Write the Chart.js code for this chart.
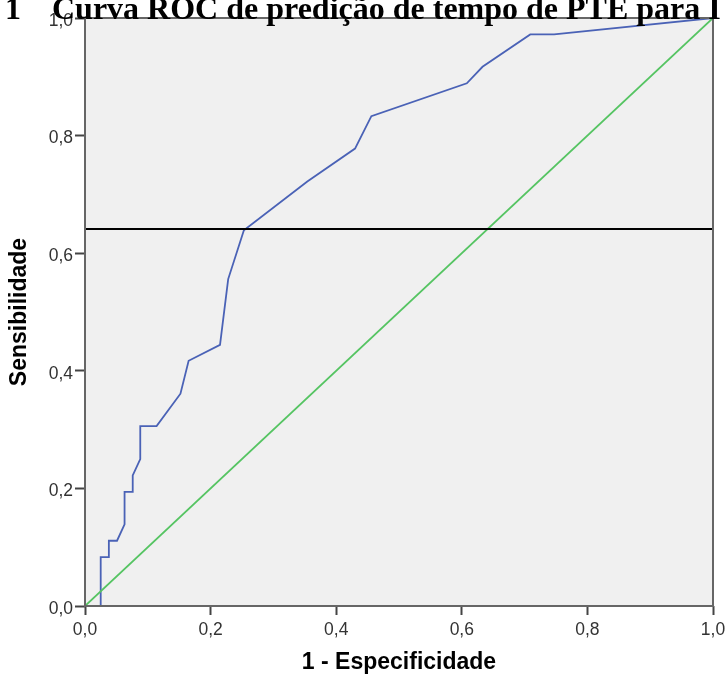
<!DOCTYPE html>
<html>
<head>
<meta charset="utf-8">
<script src="https://cdn.jsdelivr.net/npm/chart.js@4/dist/chart.umd.min.js"></script>
<style>
  html, body { margin: 0; padding: 0; background: #fff; overflow: hidden; }
  #wrap { position: relative; width: 727px; height: 675px; overflow: hidden; }
  #wrap canvas { position: absolute; left: 0; top: 0; }
  .ttl { position: absolute; top: -8px; font: bold 32px/32px "Liberation Serif", "Times New Roman", serif; color: #000; white-space: pre; z-index: 2; }
</style>
</head>
<body>
<div id="wrap">
  <span class="ttl" style="left:5px">1</span>
  <span class="ttl" style="left:52px">Curva ROC de predição de tempo de PTE para I</span>
  <canvas id="c" width="727" height="675"></canvas>
</div>
<script>
// ROC curve points: 1 - especificidade (x) and sensibilidade (y)
const rocX = [0, 0.025, 0.025, 0.038, 0.038, 0.051, 0.063, 0.063, 0.076, 0.076, 0.088, 0.088, 0.114, 0.152, 0.165, 0.215, 0.228, 0.253, 0.354, 0.430, 0.456, 0.608, 0.633, 0.709, 0.747, 1];
const rocY = [0, 0, 0.083, 0.083, 0.111, 0.111, 0.139, 0.194, 0.194, 0.222, 0.250, 0.306, 0.306, 0.361, 0.417, 0.444, 0.556, 0.639, 0.722, 0.778, 0.833, 0.889, 0.917, 0.972, 0.972, 1];
// reference diagonal
const diagX = [0, 1];
const diagY = [0, 1];
// horizontal reference line (sensibilidade)
const refX = [0, 1];
const refY = [0.641, 0.641];
// tick labels
const xTickLabels = ['0,0', '0,2', '0,4', '0,6', '0,8', '1,0'];
const yTickLabels = ['0,0', '0,2', '0,4', '0,6', '0,8', '1,0'];
const xTitle = '1 - Especificidade';
const yTitle = 'Sensibilidade';

const toPts = (xs, ys) => xs.map((x, i) => ({ x: x, y: ys[i] }));

const framePlugin = {
  id: 'frame',
  beforeDatasetsDraw(chart) {
    const a = chart.chartArea, ctx = chart.ctx;
    ctx.save();
    ctx.fillStyle = '#f0f0f0';
    ctx.fillRect(a.left, a.top, a.right - a.left, a.bottom - a.top);
    ctx.restore();
  },
  afterDatasetsDraw(chart) {
    const a = chart.chartArea, ctx = chart.ctx;
    ctx.save();
    ctx.strokeStyle = '#666666';
    ctx.lineWidth = 2;
    ctx.strokeRect(a.left, a.top, a.right - a.left, a.bottom - a.top);
    ctx.restore();
  }
};

const tickFont = { family: '"Liberation Sans", Arial, sans-serif', size: 17.5 };
const titleFont = { family: '"Liberation Sans", Arial, sans-serif', size: 23, weight: 'bold', lineHeight: 1 };

new Chart(document.getElementById('c'), {
  type: 'line',
  data: {
    datasets: [
      { data: toPts(refX, refY), borderColor: '#000000', borderWidth: 2, pointRadius: 0, order: 0 },
      { data: toPts(diagX, diagY), borderColor: '#55c462', borderWidth: 1.8, pointRadius: 0, order: 1 },
      { data: toPts(rocX, rocY), borderColor: '#4a62b6', borderWidth: 1.8, pointRadius: 0, order: 2 }
    ]
  },
  options: {
    responsive: false,
    animation: false,
    events: [],
    layout: { padding: { top: 18, right: 14, left: 0, bottom: 0 } },
    plugins: { legend: { display: false }, tooltip: { enabled: false }, title: { display: false } },
    scales: {
      x: {
        type: 'linear', min: 0, max: 1,
        afterFit(s) { s.height = 69; s.paddingRight = 0; s.paddingLeft = 0; },
        border: { display: false },
        grid: { drawOnChartArea: false, drawTicks: true, tickLength: 9, tickColor: '#444', tickWidth: 2 },
        ticks: { stepSize: 0.2, color: '#333', font: tickFont, padding: 5, maxRotation: 0,
                 callback: (v, i) => xTickLabels[i] },
        title: { display: true, text: xTitle, color: '#000', font: titleFont, padding: { top: 0, bottom: 1 } }
      },
      y: {
        type: 'linear', min: 0, max: 1,
        afterFit(s) { s.width = 85; },
        border: { display: false },
        grid: { drawOnChartArea: false, drawTicks: true, tickLength: 10, tickColor: '#444', tickWidth: 2 },
        ticks: { stepSize: 0.2, color: '#333', font: tickFont, padding: 2, labelOffset: 3,
                 callback: (v, i) => yTickLabels[i] },
        title: { display: true, text: yTitle, color: '#000', font: titleFont, padding: { top: 8, bottom: 0 } }
      }
    }
  },
  plugins: [framePlugin]
});
</script>
</body>
</html>
